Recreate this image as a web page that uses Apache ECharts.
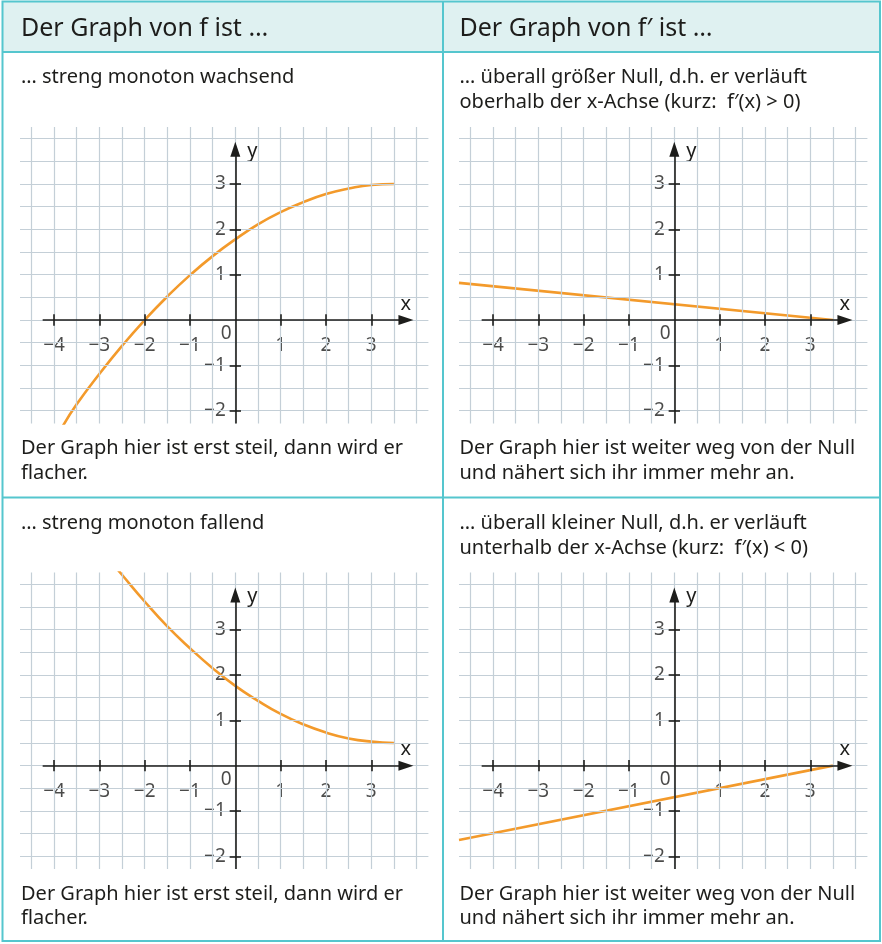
<!DOCTYPE html>
<html>
<head>
<meta charset="utf-8">
<script src="https://cdn.jsdelivr.net/npm/echarts@6/dist/echarts.min.js"></script>
<style>
  html, body { margin: 0; padding: 0; background: #fff; }
  #chart { width: 882px; height: 944px; }
</style>
</head>
<body>
<div id="chart"></div>
<script>
// Tick values on the axes
const xTicks = [-4, -3, -2, -1, 1, 2, 3];
const yTicks = [-2, -1, 1, 2, 3];
// Squared-paper lines (every half unit)
const gridXs = [-4.5, -4, -3.5, -3, -2.5, -2, -1.5, -1, -0.5, 0, 0.5, 1, 1.5, 2, 2.5, 3, 3.5, 4];
const gridYs = [-2, -1.5, -1, -0.5, 0, 0.5, 1, 1.5, 2, 2.5, 3, 3.5, 4];

// f strictly increasing (steep, then flatter)
const risingF = [[-3.8, -2.33], [-3.5, -1.86], [-3, -1.19], [-2.5, -0.57], [-2, 0], [-1.5, 0.52],
  [-1, 0.99], [-0.5, 1.41], [0, 1.78], [0.5, 2.11], [1, 2.38], [1.5, 2.6], [2, 2.78],
  [2.5, 2.9], [3, 2.98], [3.5, 3.0]];
// f' above the x-axis, approaching zero
const risingDeriv = [[-4.75, 0.82], [3.5, 0]];
// f strictly decreasing (steep, then flatter)
const fallingF = [[-2.7, 4.45], [-2.5, 4.21], [-2, 3.62], [-1.5, 3.07], [-1, 2.59], [-0.5, 2.15],
  [0, 1.76], [0.5, 1.43], [1, 1.14], [1.5, 0.91], [2, 0.73], [2.5, 0.6], [3, 0.53], [3.5, 0.5]];
// f' below the x-axis, approaching zero
const fallingDeriv = [[-4.75, -1.64], [3.5, 0]];

// Texts of the table
const headers = ['Der Graph von f ist …', 'Der Graph von f\u2032 ist …'];
const topTexts = [
  ['… streng monoton wachsend'],
  ['… überall größer Null, d.h. er verläuft', 'oberhalb der x-Achse (kurz:  f\u2032(x) > 0)'],
  ['… streng monoton fallend'],
  ['… überall kleiner Null, d.h. er verläuft', 'unterhalb der x-Achse (kurz:  f\u2032(x) < 0)']
];
const bottomTexts = [
  ['Der Graph hier ist erst steil, dann wird er', 'flacher.'],
  ['Der Graph hier ist weiter weg von der Null', 'und nähert sich ihr immer mehr an.'],
  ['Der Graph hier ist erst steil, dann wird er', 'flacher.'],
  ['Der Graph hier ist weiter weg von der Null', 'und nähert sich ihr immer mehr an.']
];

const FONT = '"Noto Sans", "Open Sans", sans-serif';
const TEXT = '#1d1d1b';
const AXIS = '#1d1d1b';
const PAPER = '#c4cfd7';
const ORANGE = '#f39a2b';
const BORDER = '#55c6ce';
const HEAD_FILL = '#dff1f1';

// Visible window of each coordinate plane
const X_MIN = -4.75, X_MAX = 4.26, Y_MIN = -2.28, Y_MAX = 4.26;
const AXIS_START = -4.25, ARROW_AT = 3.765;
const TICK_HALF = 0.125; // half length of a tick mark, in axis units

const curves = [
  { data: risingF, smooth: true },
  { data: risingDeriv, smooth: false },
  { data: fallingF, smooth: true },
  { data: fallingDeriv, smooth: false }
];

const cols = [20.0, 459.0];
const rows = [126.9, 572.5];
const GW = 408.4, GH = 296.5;

const fmt = v => (v < 0 ? '\u2212' + Math.abs(v) : String(v));

const tickLabel = {
  show: true, color: TEXT, fontSize: 19, fontFamily: FONT,
  backgroundColor: '#fff', padding: [0, 2]
};

const grids = [], xAxes = [], yAxes = [], series = [];
curves.forEach((c, i) => {
  const left = cols[i % 2], top = rows[Math.floor(i / 2)];
  grids.push({ left, top, width: GW, height: GH, containLabel: false, outerBoundsMode: 'none' });
  xAxes.push({
    gridIndex: i, type: 'value', min: X_MIN, max: X_MAX, z: 1,
    axisLine: { show: true, onZero: true, lineStyle: { opacity: 0 } },
    axisTick: { show: false },
    splitLine: { show: false },
    axisLabel: { show: false },
    name: 'x', nameLocation: 'end', nameGap: -30, nameMoveOverlap: false,
    nameTextStyle: {
      color: TEXT, fontSize: 20, fontFamily: FONT, align: 'left', verticalAlign: 'bottom',
      backgroundColor: '#fff', padding: [0, 2, 6, 2]
    }
  });
  yAxes.push({
    gridIndex: i, type: 'value', min: Y_MIN, max: Y_MAX, z: 1,
    axisLine: { show: true, onZero: true, lineStyle: { opacity: 0 } },
    axisTick: { show: false },
    splitLine: { show: false },
    axisLabel: { show: false },
    name: 'y', nameLocation: 'end', nameGap: -24, nameMoveOverlap: false,
    nameTextStyle: {
      color: TEXT, fontSize: 20, fontFamily: FONT, align: 'left', verticalAlign: 'middle',
      backgroundColor: '#fff', padding: [0, 2, 0, 12]
    }
  });

  // squared paper
  series.push({
    type: 'line', xAxisIndex: i, yAxisIndex: i, data: [], silent: true, z: 0,
    markLine: {
      silent: true, symbol: 'none', animation: false, label: { show: false },
      emphasis: { disabled: true },
      lineStyle: { color: PAPER, width: 1.2, type: 'solid' },
      data: gridXs.map(v => ({ xAxis: v })).concat(gridYs.map(v => ({ yAxis: v })))
    }
  });
  // coordinate axes with arrow heads and tick marks
  const tickSegs = xTicks.map(v => [{ coord: [v, -TICK_HALF], symbol: 'none' }, { coord: [v, TICK_HALF], symbol: 'none' }])
    .concat(yTicks.map(v => [{ coord: [-TICK_HALF, v], symbol: 'none' }, { coord: [TICK_HALF, v], symbol: 'none' }]));
  series.push({
    type: 'line', xAxisIndex: i, yAxisIndex: i, data: [], silent: true, z: 3,
    markLine: {
      silent: true, animation: false, label: { show: false },
      emphasis: { disabled: true },
      lineStyle: { color: AXIS, width: 1.6, type: 'solid' },
      data: [
        [{ coord: [AXIS_START, 0], symbol: 'none' }, { coord: [ARROW_AT, 0], symbol: 'triangle', symbolSize: [10, 15] }],
        [{ coord: [0, Y_MIN], symbol: 'none' }, { coord: [0, ARROW_AT], symbol: 'triangle', symbolSize: [10, 15] }]
      ].concat(tickSegs)
    }
  });
  // tick numbers
  series.push({
    type: 'scatter', xAxisIndex: i, yAxisIndex: i, silent: true, z: 2, symbol: 'rect',
    itemStyle: { color: 'rgba(0,0,0,0)' },
    data: xTicks.map(v => ({
      value: [v, 0], symbolSize: [2, 11],
      label: Object.assign({}, tickLabel, { position: 'bottom', distance: 11, formatter: fmt(v) })
    })).concat(yTicks.map(v => ({
      value: [0, v], symbolSize: [11, 2],
      label: Object.assign({}, tickLabel, { position: 'left', distance: 2, formatter: fmt(v) })
    })))
  });
  // the graph
  series.push({
    type: 'line', xAxisIndex: i, yAxisIndex: i, data: c.data, smooth: c.smooth,
    showSymbol: false, silent: true, clip: true, z: 4,
    lineStyle: { color: ORANGE, width: 2.6 }
  });
  // origin label
  series.push({
    type: 'scatter', xAxisIndex: i, yAxisIndex: i, silent: true, z: 3,
    data: [[0, 0]], symbolSize: 1, itemStyle: { color: 'rgba(0,0,0,0)' },
    label: {
      show: true, formatter: '0', position: 'inside', offset: [-9, 14],
      color: TEXT, fontSize: 19, fontFamily: FONT
    }
  });
});

// table frame, header and texts
const graphics = [
  { type: 'rect', shape: { x: 2, y: 1.5, width: 878, height: 50.5 }, style: { fill: HEAD_FILL }, z: -1 },
  { type: 'line', shape: { x1: 2, y1: 52, x2: 880, y2: 52 }, style: { stroke: BORDER, lineWidth: 2 } },
  { type: 'line', shape: { x1: 2, y1: 497.5, x2: 880, y2: 497.5 }, style: { stroke: BORDER, lineWidth: 2 } },
  { type: 'line', shape: { x1: 443, y1: 1.5, x2: 443, y2: 941 }, style: { stroke: BORDER, lineWidth: 2 } },
  { type: 'rect', shape: { x: 2.5, y: 1.5, width: 877.5, height: 939.5 }, style: { fill: 'none', stroke: BORDER, lineWidth: 2 } }
];
const textX = [21, 459.5];
function addText(str, x, y, size) {
  graphics.push({
    type: 'text', x, y,
    style: { text: str, fill: TEXT, fontSize: size, fontFamily: FONT, verticalAlign: 'middle', align: 'left' }
  });
}
headers.forEach((h, c) => addText(h, textX[c], 28.5, 25));
const topY = [77.5, 523];
const botY = [448.5, 894];
for (let i = 0; i < 4; i++) {
  const c = i % 2, r = Math.floor(i / 2);
  topTexts[i].forEach((t, k) => addText(t, textX[c], topY[r] + k * 25, 20));
  bottomTexts[i].forEach((t, k) => addText(t, textX[c], botY[r] + k * 24.5, 20));
}

const chart = echarts.init(document.getElementById('chart'), null, { renderer: 'canvas', width: 882, height: 944 });
chart.setOption({
  animation: false,
  backgroundColor: '#fff',
  grid: grids,
  xAxis: xAxes,
  yAxis: yAxes,
  series,
  graphic: { elements: graphics }
});
</script>
</body>
</html>
